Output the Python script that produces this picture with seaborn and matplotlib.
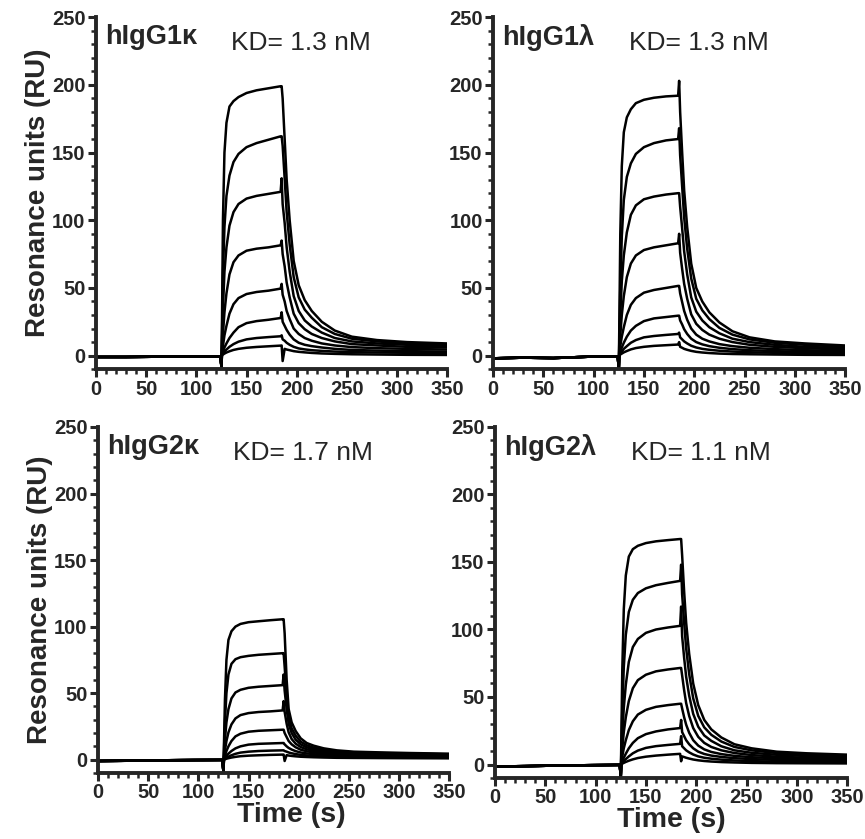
import matplotlib.pyplot as plt
from matplotlib.ticker import MultipleLocator
import seaborn as sns
import pandas as pd

# time grids (s): baseline, association, dissociation
t_base = [0, 30, 60, 95, 124, 125]
t_on = [125.5, 126.5, 128, 130, 133, 137, 142, 150, 160, 172, 184]
t_off = [185, 186, 188, 190, 193, 197, 202, 208, 215, 225, 238, 255, 280, 310, 350]

panel_names = ['hIgG1κ', 'hIgG1λ', 'hIgG2κ', 'hIgG2λ']
kd_labels = ['KD= 1.3 nM', 'KD= 1.3 nM', 'KD= 1.7 nM', 'KD= 1.1 nM']

# baseline (RU), last value = injection spike
g1k_base = [-1, -1, -0.8, -0.8, -0.8, -8]
g1l_base = [-2, -1.5, -1.8, -0.8, -0.5, -10]
g2k_base = [-1, -0.8, -0.5, -0.3, -0.2, -9]
g2l_base = [-1.5, -1.2, -0.8, -0.5, -0.3, -9]

# association phase, one row per concentration (high -> low)
g1k_on = [
    [20, 100, 150, 172, 184, 188, 191, 194, 196, 197.5, 199],
    [12, 60, 95, 118, 133, 143, 149, 154, 157, 159.5, 162],
    [8, 35, 62, 80, 96, 106, 112, 116, 118, 119.5, 121],
    [4, 16, 32, 46, 60, 69, 74, 77.5, 79, 80, 81.5],
    [2, 7, 15, 22, 31, 38, 42.5, 45.5, 47, 48, 49.5],
    [1, 3, 6, 9, 13, 17, 21, 24, 25.5, 26.5, 27.8],
    [0.5, 1.5, 3, 4.5, 6.5, 8.5, 10.3, 12, 13, 13.7, 14.3],
    [0, 0.8, 1.5, 2.3, 3.2, 4.2, 5, 5.8, 6.4, 6.9, 7.4],
]
g1l_on = [
    [20, 90, 140, 165, 176, 182, 186.5, 189, 190.5, 191.5, 192],
    [10, 50, 88, 115, 132, 142, 149, 154, 157, 159, 160],
    [6, 30, 55, 74, 91, 104, 111, 115.5, 117.5, 119, 120],
    [4, 15, 30, 44, 58, 68, 74, 78, 80, 81.5, 83],
    [2, 7, 14, 21, 30, 37.5, 42.5, 46.5, 48.5, 50, 51.5],
    [1, 3, 6, 9.5, 14, 18.5, 22, 25.5, 27.5, 28.5, 29.5],
    [0.5, 1.5, 3, 5, 7, 9.5, 11.5, 13.5, 14.5, 15.3, 16],
    [0, 0.8, 1.5, 2.4, 3.4, 4.6, 5.6, 6.5, 7.2, 7.7, 8.2],
]
g2k_on = [
    [10, 45, 75, 90, 96.5, 100, 102, 103.3, 104, 104.8, 105.5],
    [6, 28, 50, 64, 72, 75.5, 77, 78, 78.8, 79.4, 80],
    [3, 15, 28, 38, 46, 50.5, 52.5, 54, 54.8, 55.4, 56],
    [2, 7, 14, 20.5, 26.5, 31, 33.5, 35, 35.8, 36.3, 37],
    [1, 3, 6.5, 10, 14, 17.5, 19.5, 21, 21.7, 22.1, 22.5],
    [0.5, 1.5, 3, 4.5, 6.5, 8.5, 10, 11.3, 11.9, 12.2, 12.5],
    [0, 0.8, 1.5, 2.3, 3.3, 4.4, 5.3, 6, 6.5, 6.8, 7],
    [0, 0.3, 0.7, 1.1, 1.6, 2.1, 2.6, 3, 3.3, 3.6, 3.8],
]
g2l_on = [
    [15, 70, 115, 140, 154, 159.5, 162, 164, 165.3, 166.2, 167],
    [8, 40, 72, 96, 113, 122, 127, 130.5, 132.8, 134.5, 136],
    [5, 22, 42, 59, 76, 87, 93, 97.5, 100, 101.5, 102.7],
    [3, 12, 24, 35, 47, 56.5, 62.5, 66.5, 69, 70.4, 71.5],
    [1.5, 6, 12, 18, 25.5, 32, 37, 40.5, 42.7, 44, 45],
    [1, 2.5, 5, 8, 12, 16, 19.5, 22.5, 24.5, 26, 27],
    [0.5, 1.2, 2.5, 4, 6, 8.3, 10.3, 12.3, 13.6, 14.5, 15.3],
    [0, 0.6, 1.2, 1.9, 2.8, 3.8, 4.8, 5.8, 6.6, 7.3, 7.9],
]

# dissociation phase
g1k_off = [
    [199, 190, 160, 130, 100, 70, 52, 41, 33, 25, 18.5, 14, 11.5, 10, 9],
    [162, 155, 131, 106, 82, 58, 43, 34, 28, 21, 16, 12.5, 10.5, 9, 8],
    [131, 112, 98, 80, 62, 44, 33, 26, 21.5, 17, 13, 10.5, 9, 8, 7],
    [85, 75, 66, 54, 43, 31, 24, 19.5, 16, 13, 10.5, 8.5, 7.5, 6.5, 6],
    [53, 45, 40, 33, 27, 20, 16, 13, 11, 9, 7.5, 6.3, 5.5, 5, 4.5],
    [32, 25, 22, 19, 15.5, 12, 9.5, 8, 7, 6, 5, 4.2, 3.7, 3.3, 3],
    [15, 12, 11, 9.5, 8, 6.5, 5.3, 4.6, 4, 3.5, 3, 2.6, 2.3, 2.1, 2],
    [7.5, -4, 5, 4.5, 4, 3.3, 2.8, 2.4, 2, 1.6, 1.3, 1, 0.8, 0.6, 0.5],
]
g1l_off = [
    [203, 180, 150, 122, 95, 68, 50, 40, 32, 24.5, 18, 13.5, 10.5, 9, 7.5],
    [168, 148, 125, 102, 79, 57, 42, 33.5, 27, 20.5, 15.5, 12, 9.5, 8, 6.5],
    [120, 110, 94, 77, 60, 43, 32.5, 26, 21, 16.5, 12.5, 10, 8, 6.5, 5.5],
    [90, 76, 64, 53, 42, 30.5, 23.5, 19, 15.5, 12.5, 10, 8, 6.5, 5.5, 4.5],
    [51.5, 46, 39.5, 33, 26.5, 20, 15.5, 12.5, 10.5, 8.5, 7, 5.8, 4.8, 4, 3.5],
    [29.5, 26, 23, 19.5, 16, 12.5, 10, 8.3, 7, 5.8, 4.8, 4, 3.3, 2.8, 2.5],
    [17, 13.5, 12, 10.5, 9, 7.3, 6, 5, 4.3, 3.6, 3, 2.5, 2.1, 1.8, 1.5],
    [10, 6.5, 5.8, 5, 4.3, 3.5, 2.8, 2.3, 1.9, 1.5, 1.2, 1, 0.8, 0.6, 0.5],
]
g2k_off = [
    [105.5, 95, 60, 38, 28, 21.5, 16, 12.5, 10.5, 8.5, 7, 6, 5.5, 5, 4.5],
    [80, 70, 48, 32, 23.5, 18, 13.5, 10.8, 9, 7.5, 6.2, 5.4, 4.9, 4.5, 4],
    [64, 52, 38, 27, 20, 15, 11.5, 9.3, 7.8, 6.5, 5.5, 4.8, 4.3, 3.9, 3.5],
    [44, 36, 27, 20.5, 15.5, 12, 9.5, 7.8, 6.6, 5.6, 4.8, 4.1, 3.6, 3.3, 3],
    [22.5, 20, 17, 14, 11.5, 9.3, 7.5, 6.3, 5.4, 4.6, 4, 3.4, 3, 2.7, 2.5],
    [12.5, 11.5, 10, 8.8, 7.6, 6.4, 5.4, 4.7, 4.1, 3.6, 3.1, 2.7, 2.4, 2.2, 2],
    [7, 6.5, 6, 5.4, 4.8, 4.2, 3.6, 3.2, 2.8, 2.5, 2.2, 2, 1.8, 1.6, 1.5],
    [3.8, -1, 3.4, 3.1, 2.8, 2.5, 2.2, 2, 1.8, 1.6, 1.4, 1.3, 1.2, 1.1, 1],
]
g2l_off = [
    [167, 155, 128, 105, 82, 60, 44, 33, 26, 20, 15, 12, 9.5, 8.3, 7.3],
    [148, 126, 105, 86, 67, 49, 36, 27.5, 22, 17, 13, 10.5, 8.5, 7.4, 6.5],
    [117, 95, 79, 65, 51, 37.5, 28, 21.5, 17.5, 13.5, 10.5, 8.7, 7.2, 6.3, 5.5],
    [71.5, 66, 55, 45.5, 36, 27, 20.5, 16, 13, 10.5, 8.5, 7, 5.8, 5, 4.5],
    [45, 41.5, 35, 29.5, 23.5, 18, 14, 11.2, 9.3, 7.7, 6.4, 5.4, 4.6, 4, 3.5],
    [33, 24, 21, 18, 15, 12, 9.5, 7.8, 6.6, 5.6, 4.7, 4, 3.4, 2.9, 2.5],
    [21, 13.5, 12, 10.5, 9, 7.4, 6, 5, 4.3, 3.6, 3, 2.5, 2.1, 1.8, 1.5],
    [2.4, 6, 5.5, 5, 4.4, 3.7, 3.1, 2.6, 2.2, 1.8, 1.5, 1.2, 1, 0.9, 0.8],
]

bases = [g1k_base, g1l_base, g2k_base, g2l_base]
ons = [g1k_on, g1l_on, g2k_on, g2l_on]
offs = [g1k_off, g1l_off, g2k_off, g2l_off]

sns.set_style('ticks')
plt.rcParams['font.family'] = ['Liberation Sans', 'DejaVu Sans']
plt.rcParams['font.weight'] = 'bold'
plt.rcParams['axes.labelweight'] = 'bold'

fig = plt.figure(figsize=(8.65, 8.39), dpi=100)
# axes boxes in figure fraction
boxes = [
    [0.111, 0.560, 0.406, 0.4195],
    [0.570, 0.560, 0.407, 0.4195],
    [0.1133, 0.0787, 0.406, 0.4124],
    [0.5723, 0.0727, 0.407, 0.4184],
]
xlabel_x = [None, None, 0.55, 0.50]

for p in range(4):
    rows = []
    for c in range(len(ons[p])):
        tt = t_base + t_on + t_off
        vv = bases[p] + ons[p][c] + offs[p][c]
        for t, v in zip(tt, vv):
            rows.append({'time': t, 'RU': v, 'curve': c})
    df = pd.DataFrame(rows)

    ax = fig.add_axes(boxes[p])
    sns.lineplot(data=df, x='time', y='RU', units='curve', estimator=None,
                 color='black', linewidth=1.8, ax=ax, legend=False)

    ax.set_xlim(0, 350)
    ax.set_ylim(-10, 250)
    ax.xaxis.set_major_locator(MultipleLocator(50))
    ax.xaxis.set_minor_locator(MultipleLocator(10))
    ax.yaxis.set_major_locator(MultipleLocator(50))
    ax.yaxis.set_minor_locator(MultipleLocator(10))
    ax.set_yticks([0, 50, 100, 150, 200, 250])
    ax.tick_params(which='major', length=6, width=2.2, labelsize=14.5, pad=1.5)
    ax.tick_params(which='minor', length=3.5, width=1.8)
    for lab in ax.get_xticklabels() + ax.get_yticklabels():
        lab.set_fontweight('bold')
    sns.despine(ax=ax)
    ax.spines['left'].set_linewidth(2.8)
    ax.spines['bottom'].set_linewidth(2.8)

    if p % 2 == 0:
        ax.set_ylabel('Resonance units (RU)', fontsize=20, labelpad=1)
    else:
        ax.set_ylabel('')
    if p >= 2:
        ax.set_xlabel('Time (s)', fontsize=20.5)
        ax.xaxis.set_label_coords(xlabel_x[p], -0.084, transform=ax.transAxes)
        ax.xaxis.label.set_va('top')
    else:
        ax.set_xlabel('')

    ax.text(0.026, 0.98, panel_names[p], transform=ax.transAxes,
            fontsize=19.5, fontweight='bold', va='top', ha='left')
    ax.text(0.385, 0.96, kd_labels[p], transform=ax.transAxes,
            fontsize=19, fontweight='normal', va='top', ha='left')

plt.savefig('out.png', dpi=100)
